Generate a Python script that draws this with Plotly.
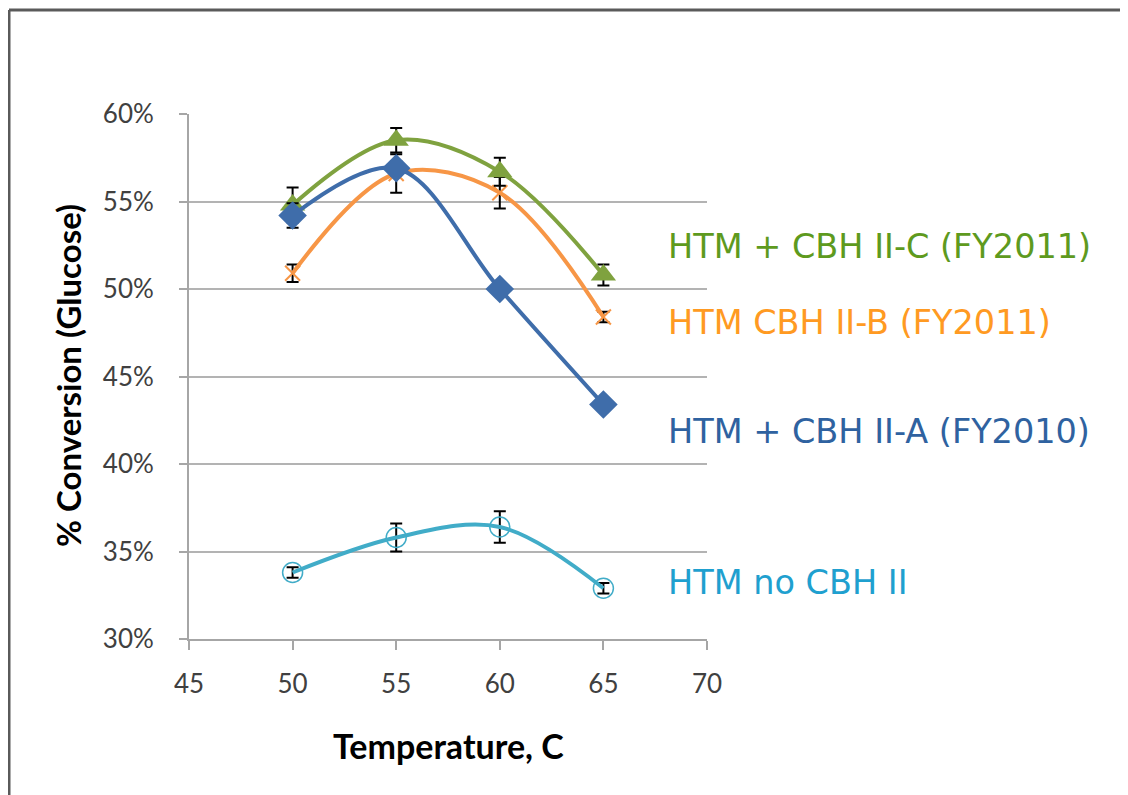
import plotly.graph_objects as go

temps = [50, 55, 60, 65]

names = ["HTM CBH II-B (FY2011)", "HTM + CBH II-C (FY2011)", "HTM + CBH II-A (FY2010)", "HTM no CBH II"]
orange_vals = [0.509, 0.566, 0.555, 0.484]
orange_err = [0.005, 0.011, 0.009, 0.003]
green_vals = [0.548, 0.585, 0.567, 0.508]
green_err = [0.010, 0.007, 0.008, 0.006]
blue_vals = [0.542, 0.569, 0.500, 0.434]
blue_err = [0.007, 0.004, 0.002, 0.002]
cyan_vals = [0.338, 0.358, 0.364, 0.329]
cyan_err = [0.003, 0.008, 0.009, 0.003]

x_ticks = [45, 50, 55, 60, 65, 70]
y_ticks = [0.30, 0.35, 0.40, 0.45, 0.50, 0.55, 0.60]
y_ticklabels = ["30%", "35%", "40%", "45%", "50%", "55%", "60%"]

W, H = 1128, 795
OFF = 8  # page body margin
L, R, T, B = 189 - OFF, 707 - OFF, 114 - OFF, 639 - OFF  # plot area in figure pixels

def px(xp):
    return (xp - OFF - L) / (R - L)

def py(yp):
    return (B - (yp - OFF)) / (B - T)

series = [
    (names[0], orange_vals, orange_err, "#F79646", dict(symbol="x-thin-open", size=15, line=dict(width=2, color="#F79646"))),
    (names[1], green_vals, green_err, "#7FA23F", dict(symbol="triangle-up", size=22, color="#7FA23F")),
    (names[2], blue_vals, blue_err, "#3F6DAA", dict(symbol="diamond", size=22, color="#3F6DAA")),
    (names[3], cyan_vals, cyan_err, "#41ACC8", dict(symbol="circle-open", size=20, line=dict(width=1.5, color="#41ACC8"))),
]

fig = go.Figure()
for name, vals, errs, col, mk in series:
    fig.add_trace(go.Scatter(
        x=temps, y=vals, name=name, mode="lines+markers",
        line=dict(color=col, width=4, shape="spline", smoothing=1.0),
        marker=mk,
        error_y=dict(type="data", array=errs, visible=True, color="black", thickness=2, width=6),
        showlegend=False,
    ))

label_info = [
    (names[1], "#5E9A1E", 247),
    (names[0], "#FF9A22", 322),
    (names[2], "#2F62A0", 432),
    (names[3], "#1FA0CF", 582),
]
for txt, col, ypix in label_info:
    fig.add_annotation(x=px(666), y=py(ypix), xref="paper", yref="paper",
                       text=txt, showarrow=False, xanchor="left", yanchor="middle",
                       font=dict(family="DejaVu Sans", size=33.5, color=col))

# axis titles
fig.add_annotation(x=px(448), y=py(745), xref="paper", yref="paper", text="<b>Temperature, C</b>",
                   showarrow=False, xanchor="center", yanchor="middle",
                   font=dict(family="Lato", size=34, color="black"))
fig.add_annotation(x=px(68), y=py(376), xref="paper", yref="paper", text="<b>% Conversion (Glucose)</b>",
                   showarrow=False, xanchor="center", yanchor="middle", textangle=-90,
                   font=dict(family="Lato", size=33, color="black"))

# outer frame (left and top edges visible)
fig.add_shape(type="line", xref="paper", yref="paper", x0=px(9), x1=px(9), y0=py(10), y1=py(810),
              line=dict(color="#5A5A5A", width=3))
fig.add_shape(type="line", xref="paper", yref="paper", x0=px(9), x1=px(1140), y0=py(10), y1=py(10),
              line=dict(color="#5A5A5A", width=3))

fig.update_layout(
    width=W, height=H,
    margin=dict(l=L, r=W - R, t=T, b=H - B),
    paper_bgcolor="white", plot_bgcolor="white",
    font=dict(family="Lato", color="#404040"),
)
fig.update_xaxes(range=[45, 70], tickvals=x_ticks, showgrid=False, zeroline=False,
                 showline=True, linecolor="#A6A6A6", linewidth=2,
                 ticks="outside", ticklen=9, tickwidth=2, tickcolor="#A6A6A6",
                 tickfont=dict(family="Lato", size=26, color="#404040"), ticklabelstandoff=12)
fig.update_yaxes(range=[0.30, 0.60], tickvals=y_ticks, ticktext=y_ticklabels,
                 showgrid=True, gridcolor="#B3B3B3", gridwidth=2, zeroline=False,
                 showline=True, linecolor="#A6A6A6", linewidth=2,
                 ticks="outside", ticklen=8, tickwidth=2, tickcolor="#A6A6A6",
                 tickfont=dict(family="Lato", size=26, color="#404040"), ticklabelstandoff=20)

fig.write_html("out.html")
